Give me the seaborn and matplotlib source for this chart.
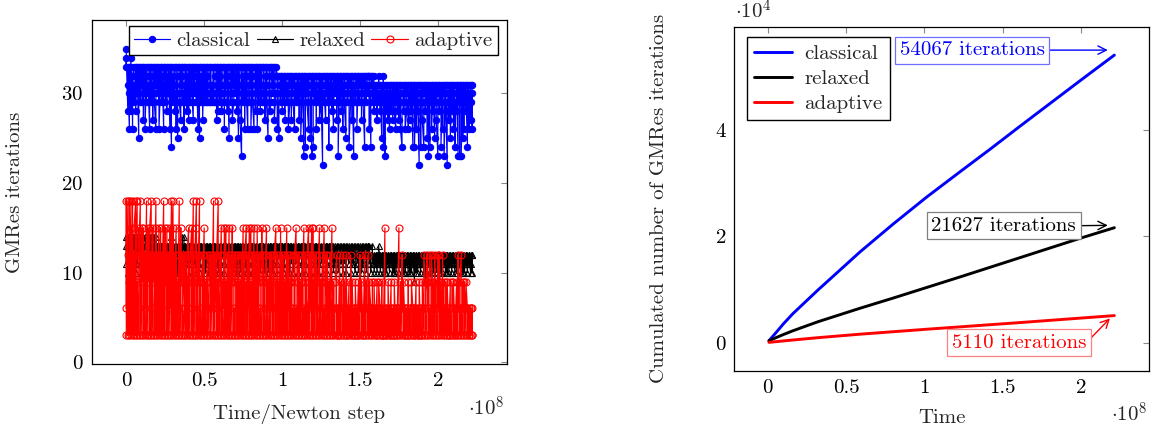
import numpy as np
import pandas as pd
import matplotlib
matplotlib.use("Agg")
import matplotlib.pyplot as plt
from matplotlib.ticker import FuncFormatter
import seaborn as sns

# time of each time step, in units of 1e8
step_time = [
    0.00, 0.01, 0.02, 0.03, 0.04, 0.05, 0.06, 0.07, 0.08, 0.09,
    0.10, 0.11, 0.12, 0.13, 0.14, 0.15, 0.16, 0.17, 0.18, 0.19,
    0.20, 0.21, 0.22, 0.23, 0.24, 0.25, 0.26, 0.27, 0.28, 0.29,
    0.30, 0.31, 0.32, 0.33, 0.34, 0.35, 0.36, 0.37, 0.38, 0.39,
    0.40, 0.41, 0.42, 0.43, 0.44, 0.45, 0.46, 0.47, 0.48, 0.49,
    0.50, 0.51, 0.52, 0.53, 0.54, 0.55, 0.56, 0.57, 0.58, 0.59,
    0.60, 0.61, 0.62, 0.63, 0.64, 0.65, 0.66, 0.67, 0.68, 0.69,
    0.70, 0.71, 0.72, 0.73, 0.74, 0.75, 0.76, 0.77, 0.78, 0.79,
    0.80, 0.81, 0.82, 0.83, 0.84, 0.85, 0.86, 0.87, 0.88, 0.89,
    0.90, 0.91, 0.92, 0.93, 0.94, 0.95, 0.96, 0.97, 0.98, 0.99,
    1.00, 1.01, 1.02, 1.03, 1.04, 1.05, 1.06, 1.07, 1.08, 1.09,
    1.10, 1.11, 1.12, 1.13, 1.14, 1.15, 1.16, 1.17, 1.18, 1.19,
    1.20, 1.21, 1.22, 1.23, 1.24, 1.25, 1.26, 1.27, 1.28, 1.29,
    1.30, 1.31, 1.32, 1.33, 1.34, 1.35, 1.36, 1.37, 1.38, 1.39,
    1.40, 1.41, 1.42, 1.43, 1.44, 1.45, 1.46, 1.47, 1.48, 1.49,
    1.50, 1.51, 1.52, 1.53, 1.54, 1.55, 1.56, 1.57, 1.58, 1.59,
    1.60, 1.61, 1.62, 1.63, 1.64, 1.65, 1.66, 1.67, 1.68, 1.69,
    1.70, 1.71, 1.72, 1.73, 1.74, 1.75, 1.76, 1.77, 1.78, 1.79,
    1.80, 1.81, 1.82, 1.83, 1.84, 1.85, 1.86, 1.87, 1.88, 1.89,
    1.90, 1.91, 1.92, 1.93, 1.94, 1.95, 1.96, 1.97, 1.98, 1.99,
    2.00, 2.01, 2.02, 2.03, 2.04, 2.05, 2.06, 2.07, 2.08, 2.09,
    2.10, 2.11, 2.12, 2.13, 2.14, 2.15, 2.16, 2.17, 2.18, 2.19,
    2.20, 2.21, 2.22,
]

# GMRes iterations of the Newton steps inside each time step
classical_iters = [
    [35, 33, 34], [28, 33, 31], [26, 33, 30], [34, 28, 33], [31, 26, 32], [33, 29, 31], [30, 33, 28], [33, 30, 32], [25, 33, 30], [32, 29, 33],
    [31, 33, 29], [33, 27, 32], [30, 33, 26], [32, 29, 33], [33, 30, 31], [26, 32, 33], [31, 29, 33], [33, 27, 30], [32, 33, 29], [26, 33, 31],
    [33, 30, 32], [29, 33, 26], [31, 33, 30], [33, 29, 32], [26, 31, 33], [30, 33, 29], [33, 28, 31], [32, 30, 33], [26, 33, 30], [24, 31, 33],
    [33, 29, 32], [31, 33, 28], [30, 26, 33], [25, 32, 33], [33, 30, 29], [27, 33, 31], [32, 29, 33], [33, 26, 30], [31, 33, 29], [33, 28, 32],
    [30, 33, 27], [33, 31, 29], [32, 33, 30], [27, 33, 29], [33, 30, 31], [29, 32, 33], [26, 33, 30], [25, 31, 33], [33, 29, 32], [30, 33, 27],
    [33, 29, 31], [29, 33, 30], [32, 29, 33], [33, 30, 29], [29, 33, 31], [31, 29, 33], [33, 30, 29], [29, 32, 33], [33, 27, 31], [28, 33, 30],
    [33, 29, 32], [30, 33, 28], [29, 31, 33], [33, 26, 30], [31, 33, 29], [28, 33, 32], [25, 31, 33], [33, 29, 30], [32, 33, 27], [29, 33, 31],
    [33, 30, 32], [31, 28, 33], [25, 33, 29], [33, 31, 27], [23, 33, 30], [32, 29, 33], [33, 26, 31], [29, 33, 30], [26, 32, 33], [33, 29, 31],
    [31, 33, 26], [33, 30, 29], [26, 32, 33], [33, 28, 31], [30, 33, 26], [33, 29, 32], [31, 33, 28], [33, 30, 29], [29, 31, 33], [33, 27, 30],
    [32, 33, 29], [25, 31, 33], [33, 30, 28], [29, 32, 33], [31, 33, 30], [33, 29, 27], [30, 32, 33], [32, 26, 30], [25, 31, 32], [32, 29, 30],
    [30, 32, 28], [32, 29, 31], [27, 32, 30], [31, 29, 32], [32, 30, 26], [29, 32, 31], [32, 27, 30], [31, 32, 29], [26, 30, 32], [32, 29, 31],
    [29, 32, 30], [32, 27, 31], [30, 32, 25], [31, 29, 32], [23, 32, 30], [32, 24, 31], [30, 32, 29], [26, 31, 32], [32, 29, 25], [31, 32, 23],
    [24, 32, 30], [32, 29, 31], [30, 26, 32], [32, 29, 30], [31, 32, 27], [29, 32, 30], [22, 31, 32], [32, 29, 30], [27, 32, 31], [30, 32, 29],
    [32, 24, 31], [29, 32, 30], [32, 28, 31], [26, 32, 29], [31, 32, 30], [32, 27, 29], [30, 32, 23], [32, 29, 31], [28, 32, 30], [32, 26, 31],
    [30, 32, 29], [25, 31, 32], [32, 29, 30], [31, 32, 24], [29, 32, 30], [32, 27, 31], [23, 30, 32], [32, 29, 31], [31, 32, 26], [32, 29, 30],
    [29, 32, 31], [32, 27, 30], [31, 32, 29], [24, 32, 30], [32, 29, 31], [30, 32, 32], [32, 26, 31], [24, 30, 32], [31, 32, 29], [32, 28, 31],
    [30, 31, 29], [31, 27, 30], [29, 32, 31], [31, 28, 30], [25, 31, 29], [30, 32, 24], [31, 23, 30], [29, 31, 28], [31, 27, 30], [26, 31, 29],
    [31, 28, 30], [29, 31, 27], [31, 30, 28], [26, 31, 29], [30, 31, 28], [31, 27, 30], [29, 31, 26], [24, 30, 31], [31, 28, 29], [30, 31, 26],
    [28, 31, 30], [31, 26, 29], [30, 31, 27], [31, 28, 30], [24, 31, 29], [30, 31, 24], [31, 26, 30], [28, 31, 29], [22, 30, 31], [31, 24, 29],
    [30, 31, 27], [24, 31, 30], [31, 28, 29], [29, 31, 25], [31, 23, 30], [24, 31, 29], [30, 31, 26], [31, 28, 30], [25, 31, 29], [30, 31, 27],
    [23, 31, 30], [31, 28, 29], [29, 31, 24], [31, 26, 30], [30, 31, 23], [31, 28, 29], [22, 30, 31], [31, 27, 30], [29, 31, 25], [31, 28, 30],
    [30, 31, 26], [31, 24, 29], [28, 31, 30], [23, 31, 29], [31, 23, 30], [29, 31, 23], [31, 25, 30], [26, 31, 29], [31, 28, 30], [24, 31, 29],
    [31, 26, 30], [27, 31, 29], [30, 26, 31],
]

relaxed_iters = [
    [14, 13, 11], [13, 14, 10], [14, 13, 11], [13, 10, 14], [14, 13, 12], [11, 14, 13], [13, 14, 10], [14, 11, 13], [13, 14, 12], [14, 13, 11],
    [13, 14, 10], [14, 13, 12], [11, 13, 14], [13, 14, 11], [14, 10, 13], [13, 14, 11], [14, 13, 10], [13, 11, 14], [14, 13, 12], [13, 14, 11],
    [13, 11, 13], [12, 13, 10], [13, 11, 13], [10, 13, 12], [13, 11, 13], [12, 13, 10], [13, 11, 13], [11, 13, 12], [13, 10, 13], [14, 13, 11],
    [13, 12, 13], [11, 13, 10], [13, 12, 13], [10, 13, 11], [13, 12, 13], [11, 13, 10], [13, 12, 14], [14, 13, 11], [13, 12, 13], [11, 13, 12],
    [13, 11, 13], [12, 13, 11], [13, 10, 13], [11, 13, 12], [13, 11, 13], [10, 13, 12], [13, 11, 13], [12, 13, 10], [13, 12, 13], [11, 13, 12],
    [13, 11, 13], [10, 13, 12], [13, 11, 13], [12, 13, 10], [13, 12, 13], [11, 13, 10], [13, 12, 13], [10, 13, 11], [13, 12, 13], [11, 13, 10],
    [13, 12, 13], [10, 13, 11], [13, 12, 13], [11, 13, 10], [13, 12, 13], [12, 13, 11], [13, 10, 13], [11, 13, 12], [13, 11, 13], [10, 13, 12],
    [13, 11, 13], [12, 13, 10], [13, 12, 13], [11, 13, 10], [13, 12, 13], [10, 13, 11], [13, 12, 13], [11, 13, 10], [13, 12, 13], [10, 13, 11],
    [13, 12, 13], [11, 13, 10], [13, 12, 13], [10, 13, 11], [13, 12, 13], [11, 13, 12], [13, 10, 13], [12, 13, 11], [13, 12, 13], [10, 13, 11],
    [13, 12, 13], [11, 13, 10], [13, 12, 13], [12, 13, 11], [13, 10, 13], [11, 13, 12], [13, 12, 13], [10, 13, 11], [13, 12, 13], [11, 13, 12],
    [13, 11, 13], [12, 13, 10], [13, 12, 13], [11, 13, 10], [13, 12, 13], [10, 13, 12], [13, 11, 13], [12, 13, 10], [13, 12, 13], [11, 13, 12],
    [13, 10, 13], [12, 13, 11], [13, 12, 13], [10, 13, 11], [13, 12, 13], [11, 13, 10], [13, 12, 13], [12, 13, 11], [13, 10, 13], [11, 13, 12],
    [13, 12, 13], [10, 13, 11], [13, 12, 13], [11, 13, 10], [13, 12, 13], [12, 13, 11], [13, 10, 13], [11, 13, 12], [13, 12, 13], [10, 13, 11],
    [13, 12, 13], [11, 13, 12], [13, 12, 11], [12, 13, 10], [13, 12, 11], [12, 13, 11], [13, 12, 10], [12, 13, 11], [13, 12, 11], [12, 13, 10],
    [13, 12, 11], [12, 13, 10], [13, 12, 12], [11, 13, 12], [12, 13, 10], [13, 12, 11], [12, 13, 11], [10, 12, 13], [13, 12, 11], [12, 13, 10],
    [12, 13, 11], [13, 12, 10], [12, 13, 11], [11, 12, 13], [13, 12, 10], [13, 12, 13], [12, 11, 13], [10, 12, 12], [12, 13, 11], [11, 12, 10],
    [12, 11, 12], [10, 12, 11], [12, 11, 13], [11, 12, 10], [12, 11, 12], [10, 12, 11], [12, 10, 12], [11, 12, 10], [12, 11, 12], [10, 12, 11],
    [12, 11, 12], [10, 12, 11], [12, 10, 12], [11, 12, 10], [12, 11, 12], [10, 12, 11], [12, 11, 12], [11, 12, 10], [12, 10, 12], [11, 12, 10],
    [12, 11, 12], [10, 12, 11], [12, 10, 12], [11, 12, 10], [12, 11, 12], [9, 12, 11], [12, 10, 12], [11, 12, 10], [12, 11, 12], [10, 12, 11],
    [12, 11, 12], [10, 12, 11], [12, 9, 12], [11, 12, 10], [12, 11, 12], [10, 12, 11], [12, 10, 12], [11, 12, 10], [12, 11, 12], [10, 12, 11],
    [12, 11, 12], [10, 12, 11], [12, 10, 12], [11, 12, 10], [12, 11, 12], [10, 12, 11], [12, 10, 12], [11, 12, 10], [12, 11, 12], [10, 12, 11],
    [12, 11, 12], [10, 12, 11], [12, 10, 12], [11, 12, 9], [12, 11, 12], [10, 12, 11], [12, 10, 12], [11, 12, 10], [12, 11, 12], [10, 12, 11],
    [12, 11, 12], [10, 12, 11], [12, 10, 12],
]

adaptive_iters = [
    [6, 18, 3], [18, 3, 12], [3, 18, 9], [18, 3, 15], [3, 18, 6], [12, 3, 15], [18, 3, 12], [18, 3, 9], [3, 15, 12], [18, 3, 12],
    [3, 15, 9], [12, 3, 15], [3, 12, 6], [18, 3, 12], [3, 15, 9], [12, 3, 15], [18, 3, 12], [3, 15, 9], [12, 3, 6], [18, 3, 15],
    [3, 12, 9], [15, 3, 12], [3, 15, 6], [12, 3, 9], [18, 3, 12], [3, 15, 9], [12, 3, 15], [3, 9, 12], [3, 15, 6], [18, 3, 12],
    [18, 3, 15], [3, 12, 9], [15, 3, 12], [3, 9, 6], [18, 3, 12], [3, 15, 9], [12, 3, 6], [3, 12, 9], [3, 6, 12], [9, 3, 12],
    [15, 3, 12], [3, 9, 12], [15, 3, 6], [18, 3, 12], [3, 9, 12], [18, 3, 15], [3, 12, 9], [18, 3, 12], [3, 6, 9], [12, 3, 9],
    [15, 3, 12], [3, 9, 6], [12, 3, 9], [3, 6, 12], [9, 3, 12], [3, 12, 6], [18, 3, 9], [3, 12, 9], [6, 3, 12], [18, 3, 9],
    [3, 12, 9], [15, 3, 12], [3, 9, 6], [15, 3, 12], [15, 3, 9], [3, 12, 6], [15, 3, 12], [3, 9, 12], [3, 15, 9], [12, 3, 6],
    [3, 12, 9], [9, 3, 12], [3, 6, 12], [12, 3, 9], [3, 12, 6], [15, 3, 12], [3, 9, 12], [15, 3, 9], [3, 12, 6], [15, 3, 12],
    [15, 3, 9], [3, 12, 6], [15, 3, 12], [3, 9, 12], [6, 3, 15], [3, 12, 9], [12, 3, 6], [3, 15, 12], [9, 3, 12], [3, 6, 9],
    [15, 3, 12], [3, 9, 6], [12, 3, 9], [3, 12, 6], [9, 3, 12], [3, 6, 12], [15, 3, 9], [3, 12, 6], [9, 3, 12], [3, 6, 15],
    [3, 12, 9], [6, 3, 12], [3, 9, 6], [15, 3, 12], [3, 12, 6], [9, 3, 12], [3, 6, 9], [12, 3, 6], [3, 9, 12], [15, 3, 6],
    [3, 12, 9], [6, 3, 12], [3, 9, 6], [12, 3, 9], [15, 3, 6], [3, 12, 9], [6, 3, 12], [15, 3, 9], [3, 12, 6], [15, 3, 12],
    [15, 3, 9], [3, 12, 6], [9, 3, 12], [3, 6, 9], [15, 3, 12], [3, 9, 6], [12, 3, 9], [15, 3, 6], [3, 12, 9], [6, 3, 12],
    [3, 9, 6], [3, 12, 6], [15, 3, 6], [9, 3, 6], [3, 6, 9], [12, 3, 6], [3, 6, 3], [12, 3, 6], [3, 9, 6], [6, 3, 12],
    [3, 6, 9], [6, 3, 12], [3, 6, 3], [9, 3, 6], [3, 6, 12], [6, 3, 9], [3, 6, 3], [6, 3, 9], [3, 6, 3], [9, 3, 6],
    [3, 12, 6], [6, 3, 9], [3, 6, 3], [12, 3, 6], [3, 9, 6], [6, 3, 12], [3, 6, 9], [6, 3, 6], [3, 9, 6], [6, 3, 9],
    [3, 6, 3], [9, 3, 6], [3, 6, 9], [6, 3, 6], [3, 9, 3], [3, 6, 3], [15, 3, 6], [3, 6, 3], [6, 3, 9], [3, 6, 3],
    [9, 3, 6], [3, 6, 3], [6, 3, 9], [3, 6, 3], [6, 3, 6], [15, 3, 6], [3, 6, 9], [3, 12, 6], [6, 3, 9], [3, 6, 3],
    [6, 3, 6], [3, 9, 3], [6, 3, 6], [3, 6, 9], [6, 3, 6], [3, 6, 3], [9, 3, 6], [3, 6, 3], [6, 3, 9], [3, 3, 6],
    [6, 3, 9], [3, 6, 12], [9, 3, 6], [3, 12, 9], [6, 3, 9], [12, 3, 6], [3, 9, 12], [6, 3, 9], [3, 12, 6], [9, 3, 6],
    [3, 12, 6], [9, 3, 12], [6, 3, 9], [3, 12, 6], [9, 3, 6], [3, 6, 9], [6, 3, 9], [3, 6, 3], [9, 3, 6], [3, 6, 9],
    [6, 3, 9], [3, 6, 3], [9, 3, 6], [3, 12, 6], [6, 3, 9], [12, 3, 6], [3, 9, 6], [6, 3, 9], [3, 6, 9], [6, 3, 6],
    [3, 6, 3], [6, 3, 6], [3, 6, 3],
]

# cumulated iterations (right panel)
cum_time = [0.008, 0.06, 0.10, 0.16, 0.32, 0.59, 0.80, 1.015, 1.23, 1.42, 1.61, 2.0, 2.212]
cum_classical = [370, 2150, 3550, 5450, 9900, 17100, 22300, 27400, 32200, 36400, 40700, 49400, 54067]
cum_relaxed = [370, 1050, 1550, 2250, 3950, 6500, 8400, 10400, 12400, 14200, 16000, 19700, 21627]
cum_adaptive = [80, 230, 350, 520, 960, 1620, 2080, 2550, 3000, 3400, 3800, 4650, 5110]

methods = ["classical", "relaxed", "adaptive"]
colors = {"classical": "#0000ff", "relaxed": "#000000", "adaptive": "#ff0000"}


def expand(groups):
    xs = [t for t, g in zip(step_time, groups) for _ in g]
    ys = [v for g in groups for v in g]
    return pd.DataFrame({"time": xs, "iters": ys})


sns.set_theme(style="white")
plt.rcParams["font.family"] = ["cmr10", "DejaVu Serif"]
plt.rcParams["mathtext.fontset"] = "cm"
plt.rcParams["axes.formatter.use_mathtext"] = True
plt.rcParams["axes.unicode_minus"] = False
FS = 15

fig = plt.figure(figsize=(11.58, 4.30), dpi=100)
W, H = 1158, 430
ax1 = fig.add_axes([91.7 / W, 1 - 364 / H, 415 / W, 344 / H])
ax2 = fig.add_axes([734.3 / W, 1 - 371 / H, 414.7 / W, 344.3 / H])

# ---- left panel: iterations per Newton step
series = {"classical": classical_iters, "relaxed": relaxed_iters, "adaptive": adaptive_iters}
marker_style = {
    "classical": dict(marker="o", markersize=4.6, markerfacecolor="#0000ff", markeredgecolor="#0000ff"),
    "relaxed": dict(marker="^", markersize=4.2, markerfacecolor="none", markeredgecolor="#000000", markeredgewidth=0.8),
    "adaptive": dict(marker="o", markersize=5.0, markerfacecolor="none", markeredgecolor="#ff0000", markeredgewidth=0.8),
}
for m in methods:
    sns.lineplot(data=expand(series[m]), x="time", y="iters", ax=ax1, color=colors[m], linewidth=0.85,
                 estimator=None, sort=False, label=m, **marker_style[m])

ax1.set_xlim(-0.222, 2.442)
ax1.set_ylim(-0.2, 38.2)
ax1.set_xticks([0, 0.5, 1, 1.5, 2])
ax1.set_yticks([0, 10, 20, 30])
ax1.xaxis.set_major_formatter(FuncFormatter(lambda v, _: f"{v:g}"))
ax1.set_xlabel("Time/Newton step", fontsize=FS)
ax1.set_ylabel("GMRes iterations", fontsize=FS)
ax1.xaxis.set_label_coords(0.5, -0.115)
ax1.yaxis.set_label_coords(-0.163, 0.5)
leg1 = ax1.legend(ncol=3, loc="upper right", bbox_to_anchor=(0.978, 0.982), fontsize=FS,
                  frameon=True, fancybox=False, framealpha=1, edgecolor="black",
                  handlelength=1.75, handletextpad=0.3, columnspacing=0.3,
                  borderpad=0.25, borderaxespad=0)
leg1.get_frame().set_linewidth(1.0)
fig.text(504 / W, 1 - 416 / H, r"$\cdot 10^{8}$", fontsize=FS, ha="right", va="baseline")

# ---- right panel: cumulated iterations
cum = pd.DataFrame({"time": cum_time, "classical": cum_classical,
                    "relaxed": cum_relaxed, "adaptive": cum_adaptive})
cum_long = cum.melt(id_vars="time", var_name="method", value_name="total")
sns.lineplot(data=cum_long, x="time", y="total", hue="method", hue_order=methods,
             palette=colors, linewidth=2.1, estimator=None, sort=False, ax=ax2)

ax2.set_xlim(-0.213, 2.433)
ax2.set_ylim(-5300, 59400)
ax2.set_xticks([0, 0.5, 1, 1.5, 2])
ax2.set_yticks([0, 20000, 40000])
ax2.xaxis.set_major_formatter(FuncFormatter(lambda v, _: f"{v:g}"))
ax2.yaxis.set_major_formatter(FuncFormatter(lambda v, _: f"{v / 1e4:g}"))
ax2.set_xlabel("Time", fontsize=FS)
ax2.set_ylabel("Cumulated number of GMRes iterations", fontsize=FS)
ax2.xaxis.set_label_coords(0.5, -0.112)
ax2.yaxis.set_label_coords(-0.159, 0.5)
leg2 = ax2.legend(loc="upper left", bbox_to_anchor=(0.03, 0.969), fontsize=FS,
                  frameon=True, fancybox=False, framealpha=1, edgecolor="black",
                  handlelength=1.8, handletextpad=0.6, labelspacing=0.3,
                  borderpad=0.35, borderaxespad=0)
leg2.get_frame().set_linewidth(1.0)
fig.text(1147 / W, 1 - 421.5 / H, r"$\cdot 10^{8}$", fontsize=FS, ha="right", va="baseline")
fig.text(735 / W, 1 - 18.5 / H, r"$\cdot 10^{4}$", fontsize=FS, ha="left", va="baseline")

notes = [
    ("54067 iterations", (2.17, 55000), (1.304, 55000), "#0000ff", "#7070ff"),
    ("21627 iterations", (2.17, 22070), (1.505, 22000), "#000000", "#808080"),
    ("5110 iterations", (2.184, 4590), (1.604, 0), "#ff0000", "#ff8080"),
]
for txt, xy, xytext, c, ec in notes:
    ax2.annotate(txt, xy=xy, xytext=xytext, fontsize=FS, color=c, ha="center", va="center",
                 bbox=dict(boxstyle="square,pad=0.22", fc="white", ec=ec, lw=0.9),
                 arrowprops=dict(arrowstyle="->", color=c, lw=1.0, relpos=(1, 0.5),
                                 shrinkA=0, shrinkB=0))

for ax in (ax1, ax2):
    for s in ax.spines.values():
        s.set_color("black")
        s.set_linewidth(0.9)
    ax.tick_params(axis="both", which="both", direction="in", top=True, right=True,
                   length=4, width=0.8, color="#888888", labelsize=FS, pad=6,
                   labelcolor="black")

fig.savefig("out.png", dpi=100)
